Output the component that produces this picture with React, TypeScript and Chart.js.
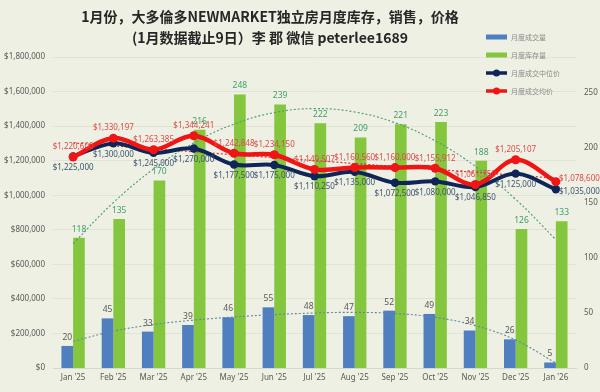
import React, { useEffect, useRef } from 'react';
import { Chart, registerables } from 'chart.js';

Chart.register(...registerables);

const months = ["Jan '25", "Feb '25", "Mar '25", "Apr '25", "May '25", "Jun '25", "Jul '25", "Aug '25", "Sep '25", "Oct '25", "Nov '25", "Dec '25", "Jan '26"];
const salesCount = [20, 45, 33, 39, 46, 55, 48, 47, 52, 49, 34, 26, 5];
const inventoryCount = [118, 135, 170, 216, 248, 239, 222, 209, 221, 223, 188, 126, 133];
const medianPrice = [1225000, 1300000, 1245000, 1270000, 1177500, 1175000, 1110250, 1135000, 1072500, 1080000, 1046850, 1125000, 1035000];
const averagePrice = [1220600, 1330197, 1263385, 1344241, 1242848, 1234150, 1149507, 1160560, 1160000, 1155912, 1061750, 1205107, 1078600];
const leftTicks = [0, 200000, 400000, 600000, 800000, 1000000, 1200000, 1400000, 1600000, 1800000];
const rightTicks = [0, 50, 100, 150, 200, 250];
const titleLines = ['1月份，大多倫多NEWMARKET独立房月度库存，销售，价格', '(1月数据截止9日）李 郡 微信 peterlee1689'];
const legendLabels = ['月度成交量', '月度库存量', '月度成交中位价', '月度成交均价'];

const FONT = "'Noto Sans', sans-serif";
const CJK = "'Noto Sans CJK SC', sans-serif";

const C_BLUE = '#4f7fbf';
const C_GREEN = '#84c63e';
const C_NAVY = '#0f2557';
const C_RED = '#f01414';

// least-squares polynomial trendline (like Excel's trendline), evaluated at each category
function polyTrend(ys: number[], order: number): number[] {
  const n = ys.length;
  const c = (n - 1) / 2;
  const m = order + 1;
  const A: number[][] = [];
  for (let r = 0; r < m; r++) {
    A.push(new Array(m + 1).fill(0));
  }
  for (let i = 0; i < n; i++) {
    const t = i - c;
    for (let r = 0; r < m; r++) {
      for (let k = 0; k < m; k++) A[r][k] += Math.pow(t, r + k);
      A[r][m] += ys[i] * Math.pow(t, r);
    }
  }
  for (let p = 0; p < m; p++) {
    let best = p;
    for (let r = p + 1; r < m; r++) if (Math.abs(A[r][p]) > Math.abs(A[best][p])) best = r;
    [A[p], A[best]] = [A[best], A[p]];
    for (let r = 0; r < m; r++) {
      if (r === p) continue;
      const f = A[r][p] / A[p][p];
      for (let k = p; k <= m; k++) A[r][k] -= f * A[p][k];
    }
  }
  const coef = A.map((row, i) => row[m] / row[i]);
  return ys.map((_, i) => {
    const t = i - c;
    return coef.reduce((s, a, k) => s + a * Math.pow(t, k), 0);
  });
}

const money = (v: number) => '$' + Math.round(v).toLocaleString('en-US');

const bgPlugin = {
  id: 'bg',
  beforeDraw(chart: any) {
    const { ctx, width, height } = chart;
    ctx.save();
    ctx.fillStyle = '#eef0e4';
    ctx.fillRect(0, 0, width, height);
    ctx.restore();
  },
};

const titleLegendPlugin = {
  id: 'titleLegend',
  afterDraw(chart: any) {
    const { ctx } = chart;
    ctx.save();
    ctx.fillStyle = '#262626';
    ctx.font = `bold 14px ${CJK}`;
    ctx.textAlign = 'center';
    ctx.textBaseline = 'middle';
    ctx.fillText(titleLines[0], 270, 17);
    ctx.fillText(titleLines[1], 270, 38);

    const ys = [37, 55, 73, 91];
    const colors = [C_BLUE, C_GREEN, C_NAVY, C_RED];
    legendLabels.forEach((lab, i) => {
      const y = ys[i];
      ctx.fillStyle = colors[i];
      if (i < 2) {
        ctx.fillRect(486, y - 2.5, 21, 5);
      } else {
        ctx.strokeStyle = colors[i];
        ctx.lineWidth = 3.5;
        ctx.beginPath();
        ctx.moveTo(486, y);
        ctx.lineTo(507, y);
        ctx.stroke();
        ctx.beginPath();
        ctx.arc(496.5, y, 3.5, 0, Math.PI * 2);
        ctx.fill();
      }
      ctx.fillStyle = '#8a8a8a';
      ctx.font = `7px ${CJK}`;
      ctx.textAlign = 'left';
      ctx.fillText(lab, 511, y);
    });
    ctx.restore();
  },
};

const labelsPlugin = {
  id: 'valueLabels',
  afterDatasetsDraw(chart: any) {
    const { ctx } = chart;
    ctx.save();
    ctx.font = `8px ${FONT}`;
    chart.data.datasets.forEach((ds: any, di: number) => {
      const kind = ds.labelKind;
      if (!kind) return;
      const meta = chart.getDatasetMeta(di);
      meta.data.forEach((el: any, i: number) => {
        const v = ds.data[i];
        const last = i === ds.data.length - 1;
        if (kind === 'sales' || kind === 'inv') {
          ctx.fillStyle = kind === 'sales' ? '#595959' : '#3f9e6a';
          ctx.font = `8.5px ${FONT}`;
          ctx.textAlign = 'center';
          ctx.textBaseline = 'middle';
          ctx.fillText(String(v), el.x, el.y - 8.5);
        } else {
          ctx.font = `8px ${FONT}`;
          ctx.textBaseline = 'middle';
          ctx.fillStyle = kind === 'avg' ? '#dd4a4a' : '#3e5470';
          if (last) {
            ctx.textAlign = 'left';
            ctx.fillText(money(v), el.x + 3, el.y - (kind === 'avg' ? 3 : -3));
          } else {
            ctx.textAlign = 'center';
            ctx.fillText(money(v), el.x, el.y + (kind === 'avg' ? -10 : 11));
          }
        }
      });
    });
    ctx.restore();
  },
};

export default function App() {
  const ref = useRef<HTMLCanvasElement | null>(null);

  useEffect(() => {
    document.body.style.margin = '0';
    if (!ref.current) return;
    const greenTrend = polyTrend(inventoryCount, 2);
    const blueTrend = polyTrend(salesCount, 4);
    const redTrend = polyTrend(averagePrice, 1);

    const chart = new Chart(ref.current, {
      type: 'bar',
      data: {
        labels: months,
        datasets: [
          {
            type: 'line', label: legendLabels[3], data: averagePrice, yAxisID: 'y', order: 0,
            borderColor: C_RED, backgroundColor: C_RED, borderWidth: 4.5, pointRadius: 4.5,
            pointBackgroundColor: C_RED, pointBorderWidth: 0, tension: 0.35, labelKind: 'avg',
          } as any,
          {
            type: 'line', label: legendLabels[2], data: medianPrice, yAxisID: 'y', order: 1,
            borderColor: C_NAVY, backgroundColor: C_NAVY, borderWidth: 4, pointRadius: 4.2,
            pointBackgroundColor: C_NAVY, pointBorderWidth: 0, tension: 0.35, labelKind: 'med',
          } as any,
          {
            type: 'line', label: 'avg trend', data: redTrend, yAxisID: 'y', order: 2,
            borderColor: '#e03030', borderWidth: 1.2, borderDash: [2, 2], pointRadius: 0, tension: 0,
          } as any,
          {
            type: 'line', label: 'inv trend', data: greenTrend, yAxisID: 'y1', order: 2,
            borderColor: '#4a9c72', borderWidth: 1.1, borderDash: [2, 2], pointRadius: 0, tension: 0.4,
          } as any,
          {
            type: 'line', label: 'sales trend', data: blueTrend, yAxisID: 'y1', order: 2,
            borderColor: '#5f86a8', borderWidth: 1.1, borderDash: [2, 2], pointRadius: 0, tension: 0.4,
          } as any,
          {
            type: 'bar', label: legendLabels[0], data: salesCount, yAxisID: 'y1', order: 3,
            backgroundColor: C_BLUE, barPercentage: 1, categoryPercentage: 0.58, labelKind: 'sales',
          } as any,
          {
            type: 'bar', label: legendLabels[1], data: inventoryCount, yAxisID: 'y1', order: 3,
            backgroundColor: C_GREEN, barPercentage: 1, categoryPercentage: 0.58, labelKind: 'inv',
          } as any,
        ],
      },
      options: {
        animation: false,
        responsive: false,
        maintainAspectRatio: false,
        layout: { padding: { top: 57, left: 0, right: 0, bottom: 0 } },
        plugins: { legend: { display: false }, tooltip: { enabled: false }, title: { display: false } },
        scales: {
          x: {
            grid: { display: false, drawTicks: false },
            border: { display: true, color: '#d6d8cc' },
            ticks: { color: '#595959', font: { size: 8, family: FONT }, padding: 5, maxRotation: 0, autoSkip: false },
            afterFit: (s: any) => { s.height = 24; },
          },
          y: {
            position: 'left', min: 0, max: 1800000,
            grid: { color: '#e0e3d5', drawTicks: false },
            border: { display: false },
            ticks: { color: '#595959', font: { size: 8, family: FONT }, padding: 8, callback: (v: any) => money(Number(v)) },
            afterBuildTicks: (s: any) => { s.ticks = leftTicks.map((v) => ({ value: v })); },
            afterFit: (s: any) => { s.width = 53; },
          },
          y1: {
            position: 'right', min: 0, max: 282,
            grid: { display: false, drawTicks: false },
            border: { display: false },
            ticks: { color: '#595959', font: { size: 8, family: FONT }, padding: 8 },
            afterBuildTicks: (s: any) => { s.ticks = rightTicks.map((v) => ({ value: v })); },
            afterFit: (s: any) => { s.width = 24; },
          },
        },
      } as any,
      plugins: [bgPlugin, labelsPlugin, titleLegendPlugin],
    });
    return () => chart.destroy();
  }, []);

  return (
    <div style={{ width: 600, height: 392 }}>
      <canvas ref={ref} width={600} height={392} style={{ display: 'block' }} />
    </div>
  );
}
